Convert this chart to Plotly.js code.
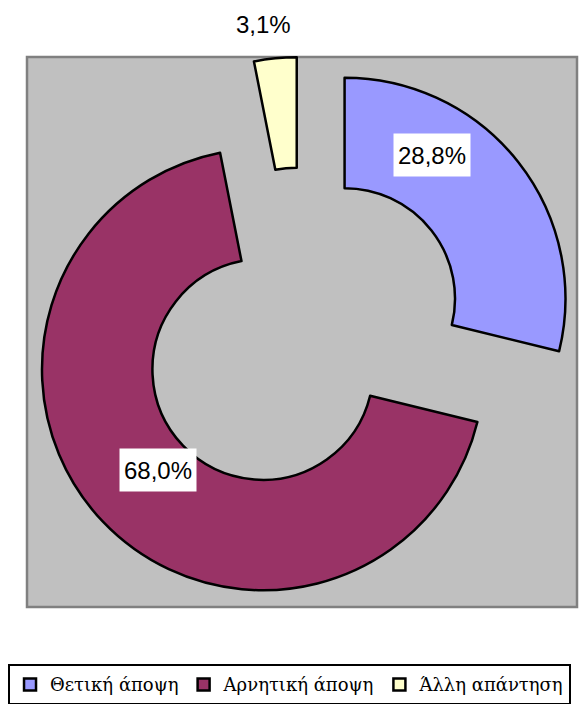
<!DOCTYPE html>
<html>
<head>
<meta charset="utf-8">
<script src="https://cdn.plot.ly/plotly-3.0.1.min.js"></script>
<style>
html,body{margin:0;padding:0;background:#fff;}
#chart{width:585px;height:704px;}
</style>
</head>
<body>
<div id="chart"></div>
<script>
// Data
var categories = ["Θετική άποψη", "Αρνητική άποψη", "Άλλη απάντηση"];
var values = [28.8, 68.0, 3.1];
var colors = ["#9999FF", "#993366", "#FFFFCC"];
// label positions (paper coords) for percentage labels
var labelX = [0.737, 0.239, 0.43];
var labelY = [0.821, 0.249, 1.059];
var labelBox = [true, true, false];

function fmt(v) { return v.toFixed(1).replace('.', ',') + '%'; }

var trace = {
  type: 'pie',
  labels: categories,
  values: values,
  sort: false,
  direction: 'clockwise',
  rotation: 0,
  hole: 0.5,
  pull: [0.245, 0.245, 0.245],
  textinfo: 'none',
  hoverinfo: 'none',
  marker: { colors: colors, line: { color: '#000000', width: 2.5 } },
  domain: { x: [0, 1], y: [0, 1] }
};

var annotations = values.map(function (v, i) {
  var a = {
    xref: 'paper', yref: 'paper',
    x: labelX[i], y: labelY[i],
    xanchor: 'center', yanchor: 'middle',
    text: fmt(v),
    showarrow: false,
    font: { family: 'Liberation Sans', size: 24, color: '#000' }
  };
  if (labelBox[i]) {
    a.bgcolor = '#FFFFFF';
    a.width = 76;
    a.height = 42;
    a.borderpad = 0;
  }
  return a;
});

var layout = {
  width: 585,
  height: 704,
  margin: { l: 27, r: 8, t: 57, b: 97, autoexpand: false },
  paper_bgcolor: '#FFFFFF',
  showlegend: true,
  legend: {
    orientation: 'h',
    x: -0.0345, xanchor: 'left',
    y: -0.104, yanchor: 'top',
    bordercolor: '#000000',
    borderwidth: 2,
    bgcolor: '#FFFFFF',
    font: { family: 'DejaVu Serif, serif', size: 18, color: '#000' },
    traceorder: 'normal',
    itemclick: false
  },
  shapes: [
    { type: 'rect', xref: 'paper', yref: 'paper', x0: 0, x1: 1, y0: 0, y1: 1,
      fillcolor: '#C0C0C0', line: { color: '#808080', width: 2.5 }, layer: 'below' }
  ],
  annotations: annotations
};

Plotly.newPlot('chart', [trace], layout, { displayModeBar: false, staticPlot: true });
</script>
</body>
</html>
